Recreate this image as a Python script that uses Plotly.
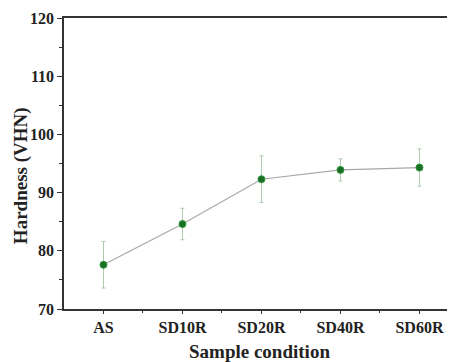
import plotly.graph_objects as go

categories = ["AS", "SD10R", "SD20R", "SD40R", "SD60R"]
hardness = [77.6, 84.6, 92.3, 93.9, 94.3]
hardness_err = [4.0, 2.7, 4.0, 1.9, 3.2]
y_ticks = [70, 80, 90, 100, 110, 120]

xpos = list(range(len(categories)))
FF = "Liberation Serif"

fig = go.Figure()
fig.add_trace(go.Scatter(
    x=xpos, y=hardness,
    mode="lines+markers",
    line=dict(color="#a8a8a8", width=1.2),
    marker=dict(color="#1a6e26", size=7, symbol="circle",
                line=dict(color="#2f9a3c", width=1)),
    error_y=dict(type="data", array=hardness_err, visible=True,
                 color="#b0c8b0", thickness=1, width=2),
    showlegend=False,
))

fig.update_layout(
    width=455, height=362,
    margin=dict(l=56, r=8, t=10, b=61),
    paper_bgcolor="white", plot_bgcolor="white",
    font=dict(family=FF, size=16, color="black"),
    xaxis=dict(
        range=[-0.5, 4.45], automargin=False,
        tickmode="array", tickvals=xpos, ticktext=[f"<b>{c}</b>" for c in categories],
        ticks="outside", ticklen=3, tickcolor="#333",
        minor=dict(tickvals=[0.5, 1.5, 2.5, 3.5], ticks="outside", ticklen=2, tickcolor="#333"),
        showline=True, linecolor="#333", linewidth=1.5, mirror=True,
        showgrid=False, zeroline=False,
        tickfont=dict(family=FF, size=16, color="#222"),
        title=dict(text="<b>Sample condition</b>", font=dict(family=FF, size=19, color="#222"), standoff=10),
    ),
    yaxis=dict(
        range=[70, 120], automargin=False,
        tickmode="array", tickvals=y_ticks,
        ticktext=[f"<b>{v}</b>" for v in y_ticks],
        ticks="outside", ticklen=5, tickcolor="#333",
        minor=dict(tickvals=[75, 85, 95, 105, 115], ticks="outside", ticklen=3, tickcolor="#333"),
        showline=True, linecolor="#333", linewidth=1.5,
        showgrid=False, zeroline=False,
        tickfont=dict(family=FF, size=16, color="#222"),
    ),
    annotations=[dict(
        text="<b>Hardness (VHN)</b>", textangle=-90,
        xref="paper", yref="paper", x=-0.110, y=0.46,
        xanchor="center", yanchor="middle", showarrow=False,
        font=dict(family=FF, size=19, color="#222"),
    )],
)

fig.write_html("out.html")
